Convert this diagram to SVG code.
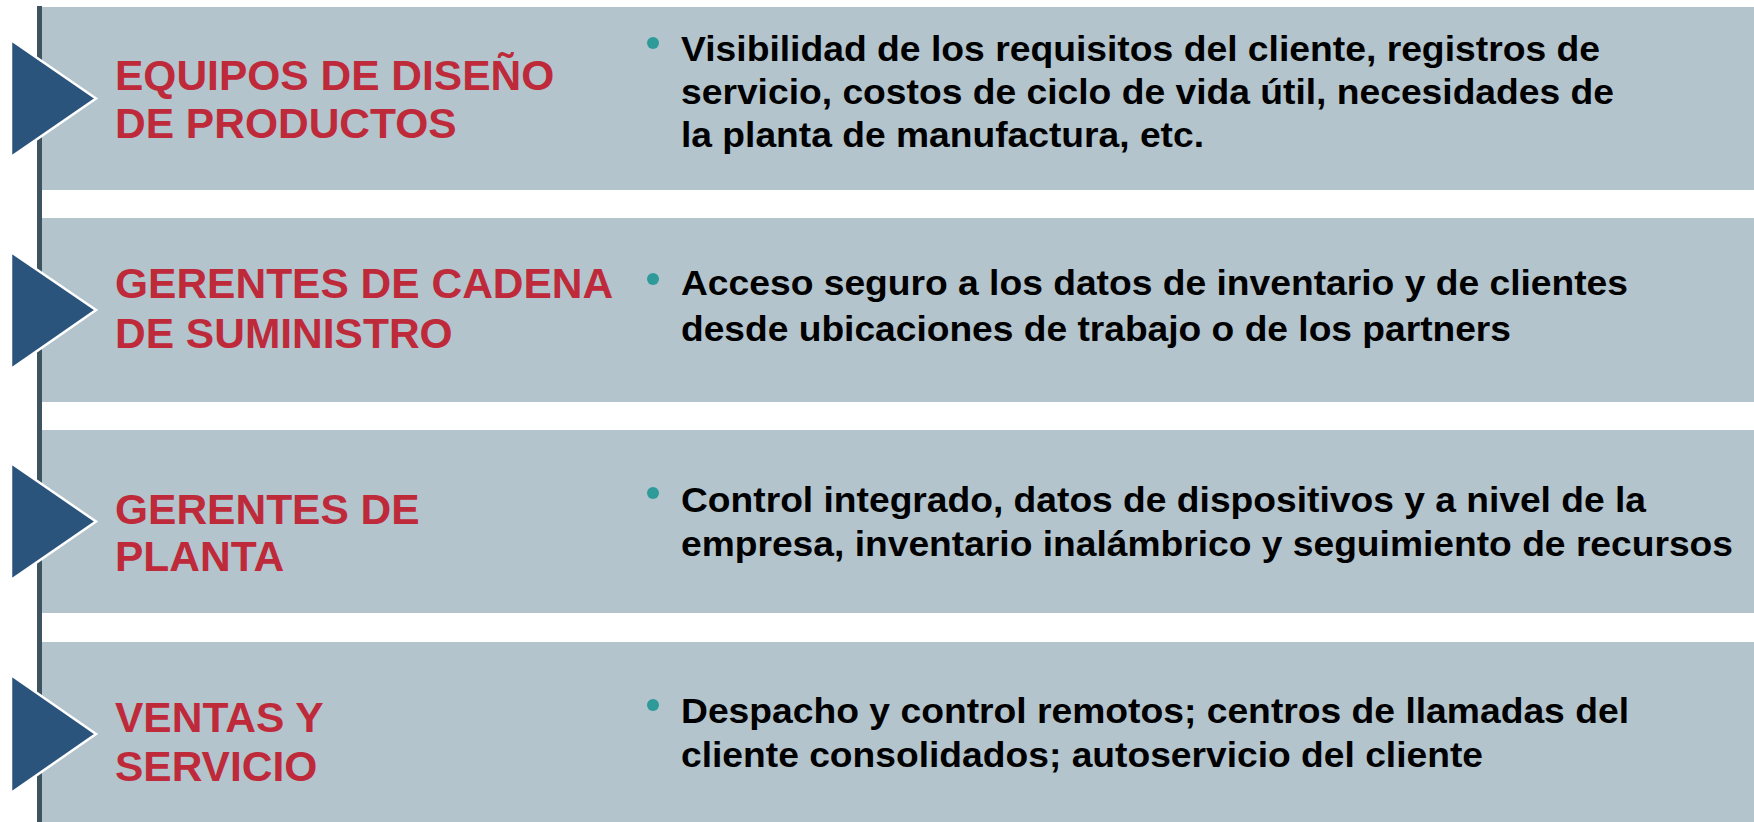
<svg xmlns="http://www.w3.org/2000/svg" width="1754" height="822" viewBox="0 0 1754 822">
  <style>
    .band { fill: #b3c4cd; }
    .tri { fill: #2b547c; stroke: #ffffff; stroke-width: 2.5; stroke-linejoin: miter; }
    .title { font-family: "Liberation Sans", Arial, sans-serif; font-weight: bold; font-size: 42.5px; fill: #be2a3a; }
    .desc { font-family: "Liberation Sans", Arial, sans-serif; font-weight: bold; font-size: 35px; fill: #000000; }
    .dot { fill: #2e9a9a; }
  </style>
  <rect x="0" y="0" width="1754" height="822" fill="#ffffff"/>
  <g id="bands">
    <rect class="band" x="42" y="7" width="1712" height="183"/>
    <rect class="band" x="42" y="218" width="1712" height="184"/>
    <rect class="band" x="42" y="430" width="1712" height="183"/>
    <rect class="band" x="42" y="642" width="1712" height="180"/>
  </g>
  <g id="connectors">
    <rect x="37" y="6" width="5" height="816" fill="#3d5360"/>
  </g>
  <g id="node-equipos">
    <polygon class="tri" points="11,40 96,98.5 11,157"/>
    <text class="title" x="115" y="90">EQUIPOS DE DISEÑO</text>
    <text class="title" x="115" y="138">DE PRODUCTOS</text>
    <circle class="dot" cx="653" cy="43" r="6"/>
    <text class="desc" x="681" y="61" textLength="919" lengthAdjust="spacingAndGlyphs">Visibilidad de los requisitos del cliente, registros de</text>
    <text class="desc" x="681" y="104" textLength="933" lengthAdjust="spacingAndGlyphs">servicio, costos de ciclo de vida útil, necesidades de</text>
    <text class="desc" x="681" y="147" textLength="523" lengthAdjust="spacingAndGlyphs">la planta de manufactura, etc.</text>
  </g>
  <g id="node-cadena">
    <polygon class="tri" points="11,252 96,310 11,369"/>
    <text class="title" x="115" y="298">GERENTES DE CADENA</text>
    <text class="title" x="115" y="348">DE SUMINISTRO</text>
    <circle class="dot" cx="653" cy="279" r="6"/>
    <text class="desc" x="681" y="295" textLength="947" lengthAdjust="spacingAndGlyphs">Acceso seguro a los datos de inventario y de clientes</text>
    <text class="desc" x="681" y="341" textLength="830" lengthAdjust="spacingAndGlyphs">desde ubicaciones de trabajo o de los partners</text>
  </g>
  <g id="node-planta">
    <polygon class="tri" points="11,463 96,521.5 11,580"/>
    <text class="title" x="115" y="524">GERENTES DE</text>
    <text class="title" x="115" y="571">PLANTA</text>
    <circle class="dot" cx="653" cy="493" r="6"/>
    <text class="desc" x="681" y="512" textLength="965" lengthAdjust="spacingAndGlyphs">Control integrado, datos de dispositivos y a nivel de la</text>
    <text class="desc" x="681" y="556" textLength="1052" lengthAdjust="spacingAndGlyphs">empresa, inventario inalámbrico y seguimiento de recursos</text>
  </g>
  <g id="node-ventas">
    <polygon class="tri" points="11,675 96,734 11,793"/>
    <text class="title" x="115" y="732">VENTAS Y</text>
    <text class="title" x="115" y="781">SERVICIO</text>
    <circle class="dot" cx="653" cy="705" r="6"/>
    <text class="desc" x="681" y="723" textLength="948" lengthAdjust="spacingAndGlyphs">Despacho y control remotos; centros de llamadas del</text>
    <text class="desc" x="681" y="767" textLength="802" lengthAdjust="spacingAndGlyphs">cliente consolidados; autoservicio del cliente</text>
  </g>
</svg>
